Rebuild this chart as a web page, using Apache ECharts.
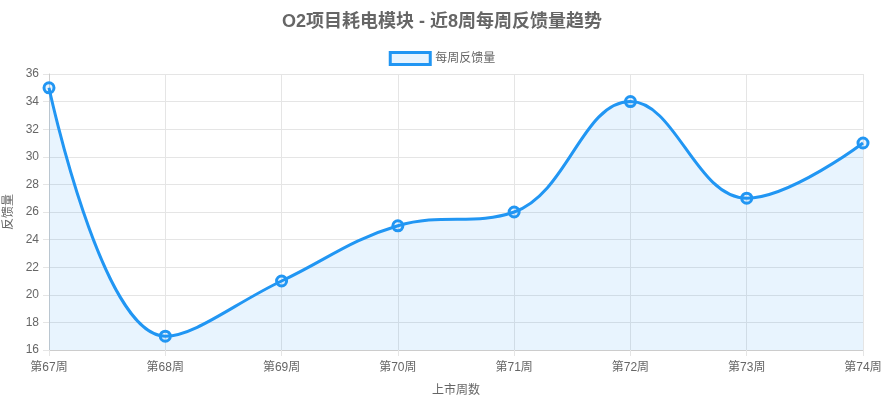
<!DOCTYPE html>
<html><head><meta charset="utf-8">
<script src="https://cdn.jsdelivr.net/npm/echarts@6/dist/echarts.min.js"></script>
<style>html,body{margin:0;padding:0;background:#fff}#c{width:884px;height:401px}</style>
</head><body><div id="c"></div>
<script>
const categories = ['第67周','第68周','第69周','第70周','第71周','第72周','第73周','第74周'];
const values = [35, 17, 21, 25, 26, 34, 27, 31];
const seriesName = '每周反馈量';
const titleText = 'O2项目耗电模块 - 近8周每周反馈量趋势';
const xName = '上市周数';
const yName = '反馈量';

const chart = echarts.init(document.getElementById('c'));
const font = '"Helvetica Neue", Helvetica, Arial, "Noto Sans CJK SC", sans-serif';
chart.setOption({
  animation: false,
  textStyle: {fontFamily: font},
  title: {text: titleText, left: 'center', top: 8,
    textStyle: {fontSize: 18, fontWeight: 'bold', color: '#666', fontFamily: font}},
  legend: {top: 46, left: 'center', itemWidth: 40, itemHeight: 12, itemGap: 8,
    textStyle: {fontSize: 12, color: '#666'},
    data: [{name: seriesName, icon: 'rect',
      itemStyle: {color: 'rgba(33,150,243,0.1)', borderColor: '#2196F3', borderWidth: 3}}]},
  grid: {left: 49, right: 21, top: 74, bottom: 51, containLabel: false, outerBoundsMode: 'none'},
  xAxis: {type: 'category', data: categories, boundaryGap: false,
    name: xName, nameLocation: 'middle', nameGap: 35,
    nameTextStyle: {color: '#666', fontSize: 12},
    axisLine: {lineStyle: {color: '#ccc'}},
    axisTick: {show: true, length: 6, lineStyle: {color: '#e5e5e5'}},
    axisLabel: {color: '#666', fontSize: 12, margin: 12},
    splitLine: {show: true, lineStyle: {color: '#e5e5e5'}}},
  yAxis: {type: 'value', min: 16, max: 36, interval: 2,
    name: yName, nameLocation: 'middle', nameGap: 30, nameRotate: 90,
    nameTextStyle: {color: '#666', fontSize: 12},
    axisLine: {show: true, lineStyle: {color: '#ccc'}},
    axisTick: {show: true, length: 6, lineStyle: {color: '#e5e5e5'}},
    axisLabel: {color: '#666', fontSize: 12, margin: 10},
    splitLine: {show: true, lineStyle: {color: '#e5e5e5'}}},
  series: [{name: seriesName, type: 'line', data: values, smooth: 0.4,
    symbol: 'circle', symbolSize: 10,
    lineStyle: {color: '#2196F3', width: 3},
    itemStyle: {color: 'rgba(33,150,243,0.1)', borderColor: '#2196F3', borderWidth: 3},
    areaStyle: {color: 'rgba(33,150,243,0.1)', opacity: 1}}]
});
</script></body></html>
